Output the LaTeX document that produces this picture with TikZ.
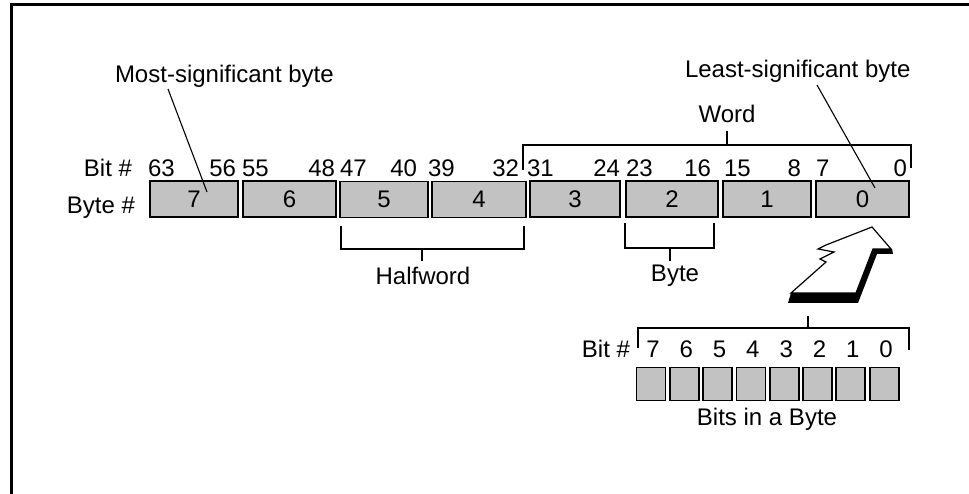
\documentclass[tikz,border=0pt]{standalone}
\usepackage{fontspec}
\setmainfont{Liberation Sans}
\begin{document}
\begin{tikzpicture}[x=1pt,y=-1pt,
  lbl/.style={font=\fontsize{24}{28}\selectfont, inner sep=0pt, outer sep=0pt},
  bytebox/.style={draw, line width=1.8pt, fill=black!24, minimum height=36pt, inner sep=0pt, outer sep=0pt, font=\fontsize{24}{28}\selectfont},
  bitbox/.style={draw, line width=1.8pt, fill=black!24, minimum width=29pt, minimum height=33pt, inner sep=0pt, outer sep=0pt},
  bracket/.style={line width=1.4pt},
  leader/.style={line width=1.1pt}]
\useasboundingbox (0,0) rectangle (969,494);
% frame
\draw[line width=3pt] (11,494) -- (11,5) -- (969,5);

% labels on the left
\node[lbl, anchor=base east] (bitlab) at (132,177) {Bit \#};
\node[lbl, anchor=base east] (bytelab) at (135,214) {Byte \#};

% byte boxes
\node[bytebox, minimum width=88pt] (b7) at (194,199) {7};
\node[bytebox, minimum width=93pt] (b6) at (289.5,199) {6};
\node[bytebox, minimum width=88pt] (b5) at (384,199.5) {5};
\node[bytebox, minimum width=94pt] (b4) at (479,199.5) {4};
\node[bytebox, minimum width=90pt] (b3) at (575,199) {3};
\node[bytebox, minimum width=92pt] (b2) at (672,199) {2};
\node[bytebox, minimum width=88pt] (b1) at (767,199) {1};
\node[bytebox, minimum width=93pt] (b0) at (862.5,199) {0};

% bit numbers
\foreach \n/\x in {63/148,55/242,47/340,39/428,31/527,23/626,15/724,7/816}
  \node[lbl, anchor=base west] (hi\n) at (\x,177) {\n};
\foreach \n/\x in {56/236,48/335,40/417,32/519,24/620,16/711,8/801,0/907}
  \node[lbl, anchor=base east] (lo\n) at (\x,177) {\n};

% most / least significant
\node[lbl, anchor=base west] (msb) at (115,83) {Most-significant byte};
\node[lbl, anchor=base west] (lsb) at (685,78) {Least-significant byte};
\coordinate (msbfoot) at (168,89);
\coordinate (msbend) at (207,192);
\coordinate (lsbfoot) at (817,85);
\coordinate (lsbend) at (875,188);
\draw[leader] (msbfoot) -- (msbend);
\draw[leader] (lsbfoot) -- (lsbend);

% Word bracket
\node[lbl, anchor=base] (word) at (727,123) {Word};
\coordinate (wl) at (523,170);
\coordinate (wlt) at (523,145);
\coordinate (wrt) at (911,145);
\coordinate (wr) at (911,168);
\coordinate (wm) at (727,145);
\coordinate (wmt) at (727,131);
\draw[bracket] (wl) -- (wlt) -- (wrt) -- (wr);
\draw[bracket] (wm) -- (wmt);

% Halfword bracket
\node[lbl, anchor=base] (half) at (423,285) {Halfword};
\coordinate (hl) at (341,226);
\coordinate (hlb) at (341,249);
\coordinate (hrb) at (524,249);
\coordinate (hr) at (524,226);
\coordinate (hm) at (422,249);
\coordinate (hmb) at (422,261);
\draw[bracket] (hl) -- (hlb) -- (hrb) -- (hr);
\draw[bracket] (hm) -- (hmb);

% Byte bracket
\node[lbl, anchor=base] (bytew) at (675,282) {Byte};
\coordinate (yl) at (625,223);
\coordinate (ylb) at (625,248);
\coordinate (yrb) at (714,248);
\coordinate (yr) at (714,223);
\coordinate (ym) at (670,248);
\coordinate (ymb) at (670,261);
\draw[bracket] (yl) -- (ylb) -- (yrb) -- (yr);
\draw[bracket] (ym) -- (ymb);

% big arrow with shadow
\fill[black] (872,249) -- (892,249) -- (893,254) -- (877,254) -- (858,303) -- (788,303) -- (791,293) -- (856,293) -- cycle;
\draw[line width=1.2pt, fill=white, line join=miter] (872,227) -- (891,249) -- (873,249) -- (856,293) -- (791,293) -- (826,262) -- (820,259) -- (834,252) -- (818,249) -- (826,245) -- cycle;

% bits bracket
\coordinate (bl) at (638,348);
\coordinate (blt) at (638,328);
\coordinate (brt) at (909,328);
\coordinate (br) at (909,350);
\coordinate (bm) at (808,328);
\coordinate (bmt) at (808,316);
\draw[bracket] (bl) -- (blt) -- (brt) -- (br);
\draw[bracket] (bm) -- (bmt);

\node[lbl, anchor=base east] (bitlab2) at (630,357) {Bit \#};
\foreach \i/\d in {0/7,1/6,2/5,3/4,4/3,5/2,6/1,7/0} {
  \node[bitbox] (bit\d) at ({651+33.3*\i},384) {};
  \node[lbl, anchor=base] (bn\d) at ({653+33.3*\i},357) {\d};
}
\node[lbl, anchor=base] (bib) at (767,425) {Bits in a Byte};
\end{tikzpicture}
\end{document}
